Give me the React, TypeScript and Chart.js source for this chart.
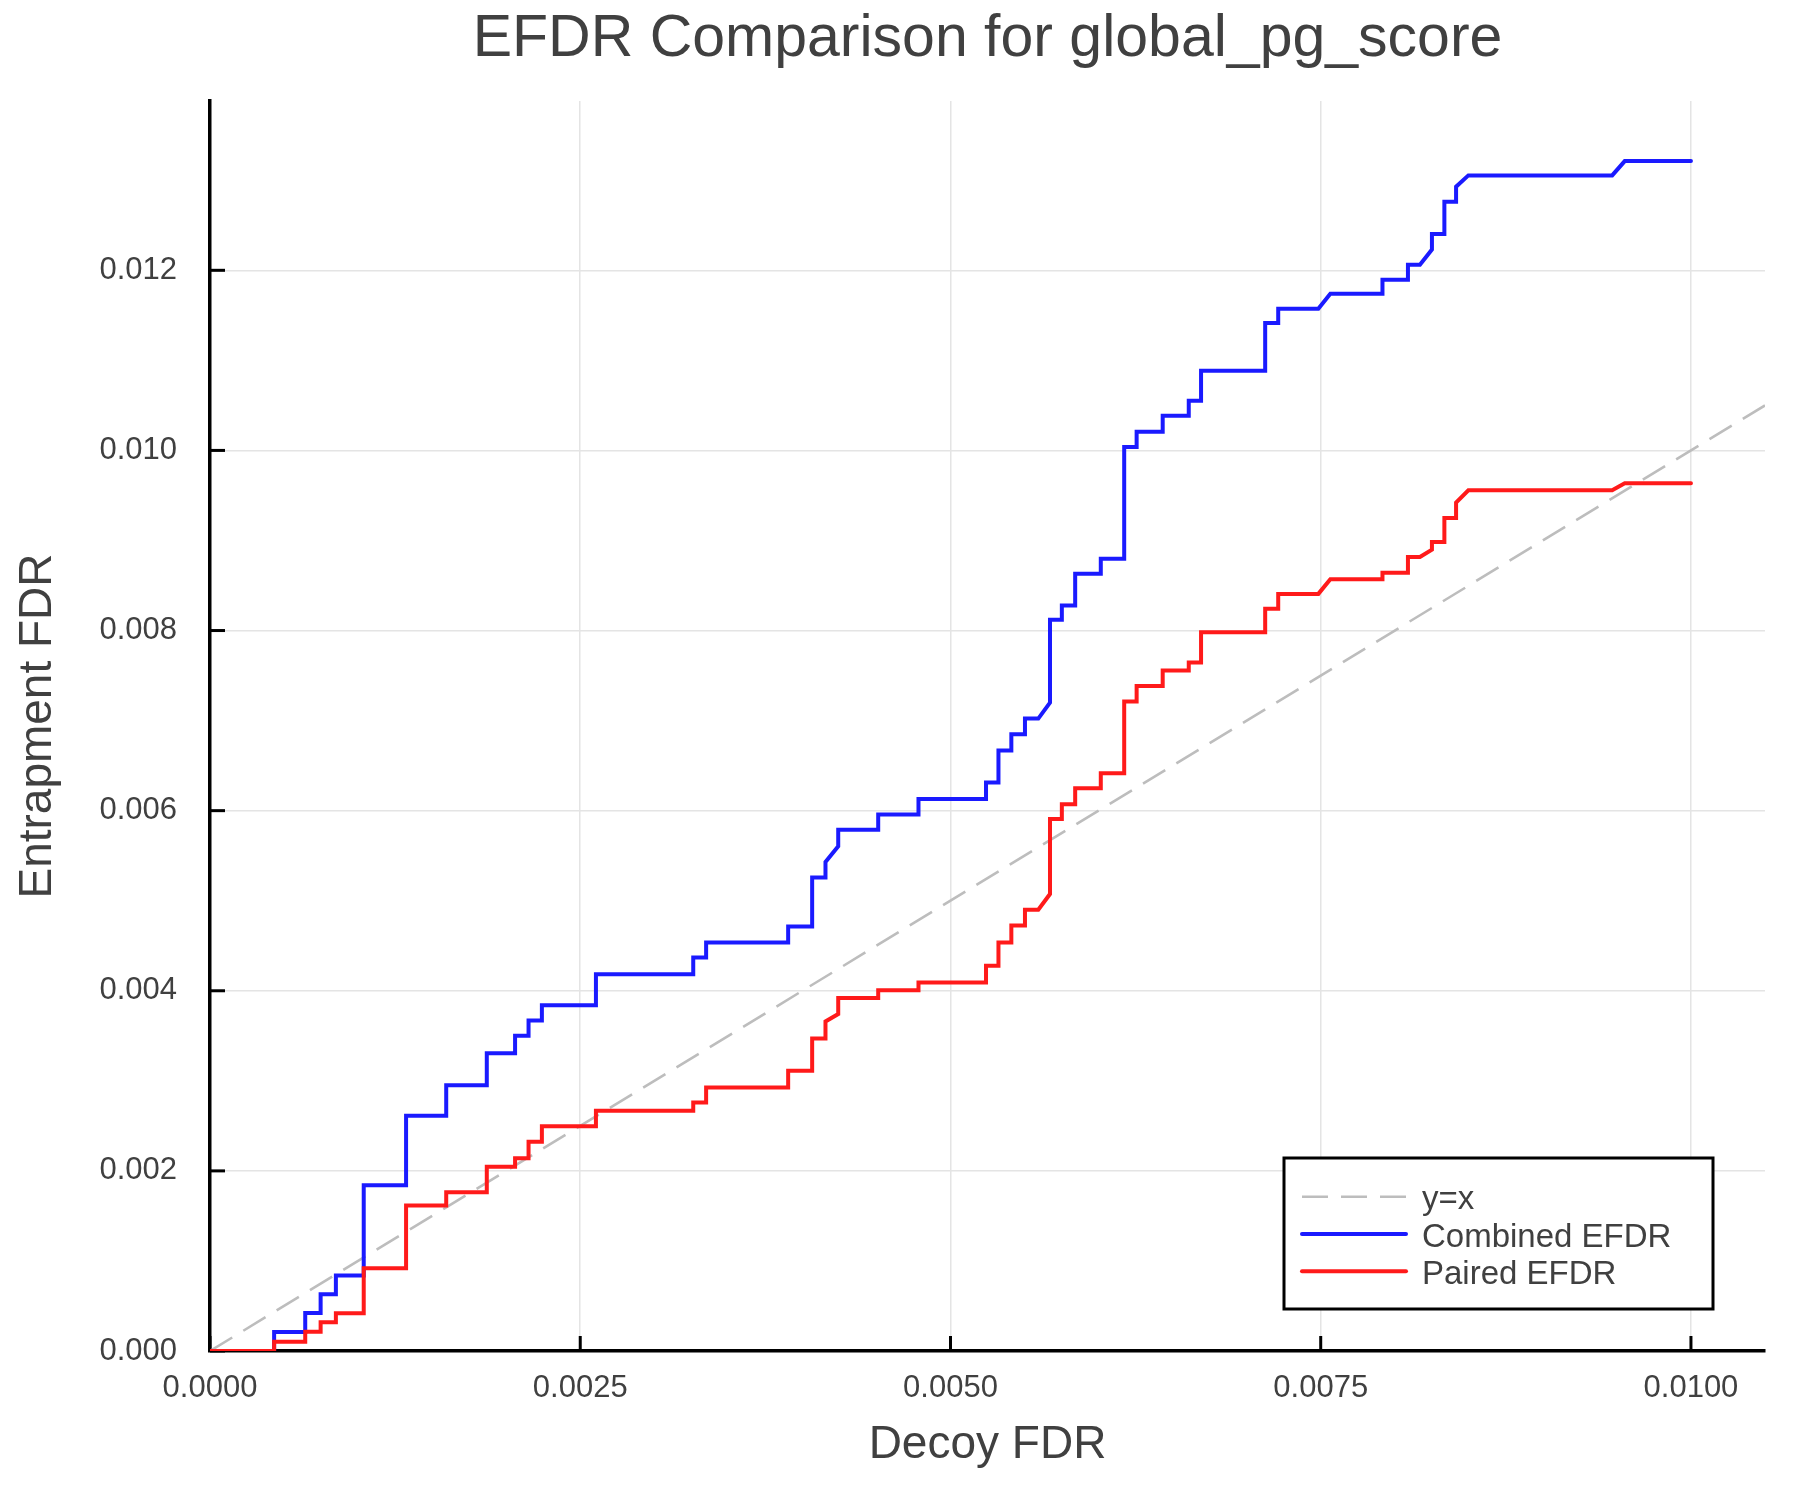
import { useEffect, useRef } from "react";
import { Chart, registerables } from "chart.js";

Chart.register(...registerables);

// Step-curve corners (both curves share the decoy FDR grid)
const decoyFdr = [
  0, 0.000433, 0.000433, 0.000643, 0.000643, 0.000747, 0.000747, 0.00085, 0.00085, 0.001038,
  0.001038, 0.001324, 0.001324, 0.001595, 0.001595, 0.001869, 0.001869, 0.00206, 0.00206, 0.002151,
  0.002151, 0.002241, 0.002241, 0.002606, 0.002606, 0.003263, 0.003263, 0.00335, 0.00335, 0.003904,
  0.003904, 0.004066, 0.004066, 0.004156, 0.004156, 0.004242, 0.004242, 0.004512, 0.004512, 0.004784,
  0.004784, 0.00524, 0.00524, 0.005324, 0.005324, 0.005411, 0.005411, 0.005503, 0.005503, 0.005593,
  0.005672, 0.005672, 0.005752, 0.005752, 0.005842, 0.005842, 0.006015, 0.006015, 0.006173, 0.006173,
  0.006257, 0.006257, 0.006433, 0.006433, 0.006609, 0.006609, 0.006692, 0.006692, 0.007125, 0.007125,
  0.007213, 0.007213, 0.007484, 0.007565, 0.007917, 0.007917, 0.008089, 0.008089, 0.00817, 0.008251,
  0.008251, 0.008335, 0.008335, 0.008414, 0.008414, 0.008497, 0.009468, 0.009553, 0.01,
];
const combinedEfdr = [
  0, 0, 0.00021, 0.00021, 0.000422, 0.000422, 0.00063, 0.00063, 0.000837, 0.000837,
  0.00184, 0.00184, 0.002611, 0.002611, 0.00295, 0.00295, 0.003305, 0.003305, 0.0035, 0.0035,
  0.00367, 0.00367, 0.00384, 0.00384, 0.004183, 0.004183, 0.00437, 0.00437, 0.004537, 0.004537,
  0.004715, 0.004715, 0.005259, 0.005259, 0.00543, 0.005604, 0.005789, 0.005789, 0.005956, 0.005956,
  0.00613, 0.00613, 0.006313, 0.006313, 0.006667, 0.006667, 0.006848, 0.006848, 0.007022, 0.007022,
  0.0072, 0.008119, 0.008119, 0.008278, 0.008278, 0.00863, 0.00863, 0.008796, 0.008796, 0.010037,
  0.010037, 0.010207, 0.010207, 0.010385, 0.010385, 0.010552, 0.010552, 0.010885, 0.010885, 0.011415,
  0.011415, 0.011574, 0.011574, 0.01174, 0.01174, 0.011896, 0.011896, 0.012063, 0.012063, 0.01223,
  0.012404, 0.012404, 0.012761, 0.012761, 0.012928, 0.013054, 0.013054, 0.013213, 0.013213,
];
const pairedEfdr = [
  0, 0, 0.000104, 0.000104, 0.000215, 0.000215, 0.000319, 0.000319, 0.000419, 0.000419,
  0.000919, 0.000919, 0.001615, 0.001615, 0.001763, 0.001763, 0.002045, 0.002045, 0.002141, 0.002141,
  0.002324, 0.002324, 0.002497, 0.002497, 0.002667, 0.002667, 0.002759, 0.002759, 0.002926, 0.002926,
  0.003111, 0.003111, 0.00347, 0.00347, 0.003659, 0.003741, 0.003919, 0.003919, 0.004007, 0.004007,
  0.004093, 0.004093, 0.004278, 0.004278, 0.004537, 0.004537, 0.004726, 0.004726, 0.0049, 0.0049,
  0.005074, 0.005907, 0.005907, 0.00607, 0.00607, 0.006248, 0.006248, 0.006415, 0.006415, 0.007211,
  0.007211, 0.007385, 0.007385, 0.007556, 0.007556, 0.007644, 0.007644, 0.007981, 0.007981, 0.008241,
  0.008241, 0.008407, 0.008407, 0.00857, 0.00857, 0.008642, 0.008642, 0.008816, 0.008816, 0.008898,
  0.008983, 0.008983, 0.00925, 0.00925, 0.009421, 0.009558, 0.009558, 0.009636, 0.009636,
];
const identityLine = [0, 0.0105];

// Axis ticks
const xTickValues = [0, 0.0025, 0.005, 0.0075, 0.01];
const yTickValues = [0, 0.002, 0.004, 0.006, 0.008, 0.01, 0.012];

// Styles
const fontFamily = '"Liberation Sans", Arial, Helvetica, sans-serif';
const textColor = "#404040";
const blue = "#1a1aff";
const red = "#ff1a1a";
const gray = "#bdbdbd";
const titleText = "EFDR Comparison for global_pg_score";

const legendItems = [
  { label: "y=x", color: gray, width: 2.6, dash: [26, 13] },
  { label: "Combined EFDR", color: blue, width: 4, dash: [] },
  { label: "Paired EFDR", color: red, width: 4, dash: [] },
];

// Title, inward tick marks and in-plot legend
const decorPlugin = {
  id: "decor",
  beforeDatasetsDraw(chart: any) {
    const { ctx, chartArea, scales } = chart;
    ctx.save();
    ctx.strokeStyle = "#000";
    ctx.lineWidth = 3;
    xTickValues.forEach((v) => {
      const px = scales.x.getPixelForValue(v);
      ctx.beginPath();
      ctx.moveTo(px, chartArea.bottom);
      ctx.lineTo(px, chartArea.bottom - 15);
      ctx.stroke();
    });
    yTickValues.forEach((v) => {
      const py = scales.y.getPixelForValue(v);
      ctx.beginPath();
      ctx.moveTo(chartArea.left, py);
      ctx.lineTo(chartArea.left + 15, py);
      ctx.stroke();
    });
    ctx.restore();
  },
  afterDraw(chart: any) {
    const { ctx, chartArea } = chart;
    ctx.save();

    // Title
    ctx.fillStyle = textColor;
    ctx.font = `59px ${fontFamily}`;
    ctx.textAlign = "center";
    ctx.textBaseline = "alphabetic";
    ctx.fillText(titleText, (chartArea.left + chartArea.right) / 2, 56);

    // Legend box
    const box = { left: 1284, top: 1158, right: 1713, bottom: 1309 };
    ctx.fillStyle = "#fff";
    ctx.fillRect(box.left, box.top, box.right - box.left, box.bottom - box.top);
    ctx.strokeStyle = "#000";
    ctx.lineWidth = 3;
    ctx.strokeRect(box.left, box.top, box.right - box.left, box.bottom - box.top);

    ctx.font = `33px ${fontFamily}`;
    ctx.textAlign = "left";
    legendItems.forEach((item, i) => {
      const cy = 1196.7 + i * 37.3;
      ctx.strokeStyle = item.color;
      ctx.lineWidth = item.width;
      ctx.setLineDash(item.dash);
      ctx.lineCap = item.dash.length ? "butt" : "round";
      ctx.beginPath();
      ctx.moveTo(1302, cy);
      ctx.lineTo(1406, cy);
      ctx.stroke();
      ctx.setLineDash([]);
      ctx.fillStyle = textColor;
      ctx.fillText(item.label, 1422, cy + 12.5);
    });

    ctx.restore();
  },
};

export default function App() {
  const canvasRef = useRef<HTMLCanvasElement | null>(null);
  const chartRef = useRef<Chart | null>(null);

  useEffect(() => {
    if (chartRef.current) {
      chartRef.current.destroy();
      chartRef.current = null;
    }
    const canvas = canvasRef.current;
    if (!canvas) return;

    chartRef.current = new Chart(canvas, {
      type: "line",
      data: {
        datasets: [
          {
            label: "y=x",
            data: identityLine.map((v) => ({ x: v, y: v })),
            borderColor: gray,
            borderWidth: 2.6,
            borderDash: [26, 13],
            pointRadius: 0,
            order: 2,
          },
          {
            label: "Combined EFDR",
            data: decoyFdr.map((x, i) => ({ x, y: combinedEfdr[i] })),
            borderColor: blue,
            borderWidth: 4,
            borderCapStyle: "round",
            pointRadius: 0,
            order: 1,
          },
          {
            label: "Paired EFDR",
            data: decoyFdr.map((x, i) => ({ x, y: pairedEfdr[i] })),
            borderColor: red,
            borderWidth: 4,
            borderCapStyle: "round",
            pointRadius: 0,
            order: 0,
          },
        ],
      },
      options: {
        responsive: false,
        devicePixelRatio: 1,
        animation: false,
        layout: { padding: { top: 101, right: 35, bottom: 0, left: 0 } },
        elements: { line: { tension: 0 } },
        plugins: {
          legend: { display: false },
          title: { display: false },
          tooltip: { enabled: false },
        },
        scales: {
          x: {
            type: "linear",
            min: 0,
            max: 0.0105,
            afterBuildTicks: (scale: any) => {
              scale.ticks = xTickValues.map((v) => ({ value: v }));
            },
            afterFit: (scale: any) => {
              scale.height = 149;
            },
            grid: { color: "#e4e4e4", lineWidth: 1.5, drawTicks: false },
            border: { display: true, color: "#000", width: 3.5 },
            ticks: {
              padding: 19,
              color: textColor,
              font: { family: fontFamily, size: 31 },
              maxRotation: 0,
              callback: (v: any) => Number(v).toFixed(4),
            },
            title: {
              display: true,
              text: "Decoy FDR",
              color: textColor,
              font: { family: fontFamily, size: 46 },
              padding: { top: 0, bottom: 27 },
            },
          },
          y: {
            type: "linear",
            min: 0,
            max: 0.01388,
            afterBuildTicks: (scale: any) => {
              scale.ticks = yTickValues.map((v) => ({ value: v }));
            },
            afterFit: (scale: any) => {
              scale.width = 210;
            },
            grid: { color: "#e4e4e4", lineWidth: 1.5, drawTicks: false },
            border: { display: true, color: "#000", width: 3.5 },
            ticks: {
              padding: 33,
              color: textColor,
              font: { family: fontFamily, size: 31 },
              callback: (v: any) => Number(v).toFixed(3),
            },
            title: {
              display: true,
              text: "Entrapment FDR",
              color: textColor,
              font: { family: fontFamily, size: 46 },
              padding: { top: 11, bottom: 0 },
            },
          },
        },
      },
      plugins: [decorPlugin],
    });

    return () => {
      chartRef.current?.destroy();
      chartRef.current = null;
    };
  }, []);

  return (
    <div style={{ position: "absolute", left: 0, top: 0, width: 1800, height: 1500, background: "#fff" }}>
      <canvas ref={canvasRef} width={1800} height={1500} />
    </div>
  );
}
